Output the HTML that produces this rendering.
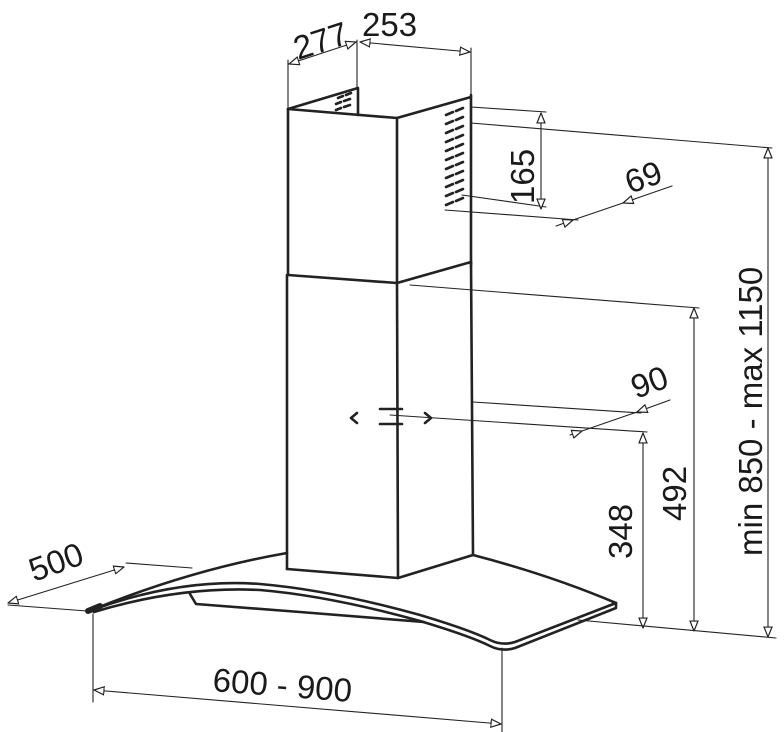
<!DOCTYPE html>
<html><head><meta charset="utf-8"><style>
html,body{margin:0;padding:0;background:#fff;}
svg{display:block;}
text{font-family:"Liberation Sans",Arial,sans-serif;fill:#1a1a1a;}
</style></head><body>
<svg width="784" height="732" viewBox="0 0 784 732" xmlns="http://www.w3.org/2000/svg">
<defs>
<marker id="a" viewBox="0 0 10 10" refX="10" refY="5" markerWidth="11" markerHeight="10" orient="auto-start-reverse" markerUnits="userSpaceOnUse">
<path d="M0,1 L10,5 L0,9 Z" fill="#fff" stroke="#222" stroke-width="1.2"/>
</marker>
</defs>
<g fill="none" stroke="#222" stroke-linecap="round" stroke-linejoin="round">
<g stroke-width="2.6">
<path d="M288,109 L397,118 L471,97"/>
<path d="M288,109 L358,88 L358,115"/>
<path d="M288,109 L288,275"/>
<path d="M397,118 L397,283"/>
<path d="M471,95 L471,265"/>
<path d="M288,275 L397,283 L471,262"/>
<path d="M287,275 L287,569"/>
<path d="M397,283 L398,578"/>
<path d="M471,262 L473,555"/>
<path d="M287,569 L398,578 L473,555"/>
<path d="M287,553 Q190,570 92,610"/>
<path d="M473,555 Q550,575 616,603"/>
<path d="M92,610 Q180,578 260,584 Q330,590 420,615 Q470,630 490,640 Q502,646 515,642 L616,603"/>
<path d="M94,612 Q180,586 260,590 Q330,596 420,621 Q470,636 490,646 Q502,652 515,648 L616,608 L616,603"/>
<path d="M190,594 L196,604 L300,612 L424,622"/>
</g>
<path d="M88,611 L100,606" stroke-width="6"/>
<g stroke-width="2.6">
<path d="M446,115 l7,-3 M456,111 l7,-3"/>
<path d="M446,124 l7,-3 M456,120 l7,-3"/>
<path d="M446,133 l7,-3 M456,129 l7,-3"/>
<path d="M446,142 l7,-3 M456,138 l7,-3"/>
<path d="M446,151 l7,-3 M456,147 l7,-3"/>
<path d="M446,160 l7,-3 M456,156 l7,-3"/>
<path d="M446,169 l7,-3 M456,165 l7,-3"/>
<path d="M446,178 l7,-3 M456,174 l7,-3"/>
<path d="M446,187 l7,-3 M456,183 l7,-3"/>
<path d="M446,196 l7,-3 M456,192 l7,-3"/>
<path d="M446,205 l7,-3 M456,201 l7,-3"/>
<path d="M336,104 l5,-2 M344,101 l6,-2"/>
<path d="M336,110 l5,-2 M344,107 l6,-2"/>
<path d="M338,98 l5,-2 M346,95 l5,-2"/>
<path d="M357,413 L351,418 L357,423"/>
<path d="M380,409 L402,409 M380,424 L402,424"/>
<path d="M425,413 L431,418 L425,423"/>
</g>
<g stroke-width="1.1">
<path d="M288,109 L288,60 M357,88 L357,40 M471,95 L471,48"/>
<path d="M289,64 L356,42" marker-start="url(#a)" marker-end="url(#a)"/>
<path d="M360,42 L470,52" marker-start="url(#a)" marker-end="url(#a)"/>
<path d="M471,107 L546,112 M471,123 L772,148 M462,195 L546,207 M445,210 L578,220"/>
<path d="M541,113 L541,209" marker-start="url(#a)" marker-end="url(#a)"/>
<path d="M556,226 L573,220" marker-end="url(#a)"/>
<path d="M623,203 L672,186" marker-start="url(#a)"/>
<path d="M573,220 L623,203"/>
<path d="M768,148 L768,637" marker-start="url(#a)" marker-end="url(#a)"/>
<path d="M410,285 L699,308"/>
<path d="M694,308 L694,631" marker-start="url(#a)" marker-end="url(#a)"/>
<path d="M473,402 L641,413 M390,415 L647,432"/>
<path d="M570,435 L582,431" marker-end="url(#a)"/>
<path d="M637,412 L670,400" marker-start="url(#a)"/>
<path d="M582,431 L637,412"/>
<path d="M643,433 L643,628" marker-start="url(#a)" marker-end="url(#a)"/>
<path d="M578,620 L776,638"/>
<path d="M8,603 L124,567" marker-start="url(#a)" marker-end="url(#a)"/>
<path d="M126,563 L192,568 M8,605 L87,611"/>
<path d="M93,614 L93,702 M502,648 L502,732"/>
<path d="M94,690 L501,724" marker-start="url(#a)" marker-end="url(#a)"/>
</g>
</g>
<g font-size="33">
<text x="0" y="0" transform="translate(298,60) rotate(-18)">277</text>
<text x="362" y="36">253</text>
<text x="0" y="0" transform="translate(534,204) rotate(-90)">165</text>
<text x="0" y="0" transform="translate(630,194) rotate(-20)">69</text>
<text x="0" y="0" transform="translate(762,556) rotate(-90)">min 850 - max 1150</text>
<text x="0" y="0" transform="translate(636,399) rotate(-20)">90</text>
<text x="0" y="0" transform="translate(686,521) rotate(-90)">492</text>
<text x="0" y="0" transform="translate(632,559) rotate(-90)">348</text>
<text x="0" y="0" transform="translate(34,582) rotate(-20)">500</text>
<text x="0" y="0" transform="translate(212,691) rotate(4.5)">600 - 900</text>
</g>
</svg>
</body></html>
